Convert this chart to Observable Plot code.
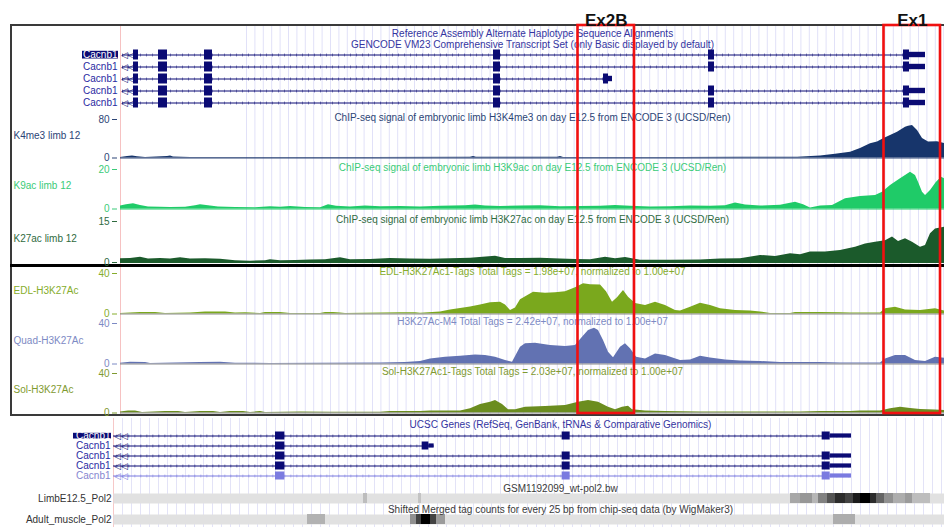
<!DOCTYPE html>
<html><head><meta charset="utf-8">
<script src="https://cdn.jsdelivr.net/npm/d3@7"></script>
<script src="https://cdn.jsdelivr.net/npm/@observablehq/plot@0.6"></script>
<style>
html,body{margin:0;padding:0;background:#fff;}
#c{position:relative;width:944px;height:527px;overflow:hidden;background:#fff;font-family:"Liberation Sans",Arial,sans-serif;}
#c svg{position:absolute;overflow:visible;max-width:none !important;}
.ln{position:absolute;box-sizing:border-box;}
</style></head><body><div id="c"></div>
<script>
// ================= DATA =================
// genomic bins shown in each panel
const topDomain = [0, 824];
const lowDomain = [251.5, 922];

// transcript models (genomic bins)
const transcripts = {
  full:  {start: 2, end: 805, exons: [[13,18],[38,47],[84,92],[373,380],[588,594],[783,789]], utr: [[789,805]]},
  short: {start: 2, end: 492, exons: [[13,18],[38,47],[84,92],[373,380],[483,488]], utr: [[488,492]]}
};
const geneName = "Cacnb1";
const topRowKinds = ["full","full","short","full","full"];
const lowRowKinds = ["full","short","full","full","full"];
const lowRowFaded = [false,false,false,false,true];

const topTitles = ["Reference Assembly Alternate Haplotype Sequence Alignments",
                   "GENCODE VM23 Comprehensive Transcript Set (only Basic displayed by default)"];
const lowTitle = "UCSC Genes (RefSeq, GenBank, tRNAs & Comparative Genomics)";

// signal tracks [bin, value]
const k4me3 = [[0,1],[7,3],[12,4],[17,2.5],[25,1],[47,3],[50,4],[53,2],[70,1],[150,0.8],[250,1],[350,1.5],[353,3],[356,1.5],[437,1.5],[440,3],[443,1],[500,1],[560,1.2],[620,1.5],[677,1.5],[700,4],[715,8],[730,12],[740,20],[750,29.5],[757,33],[763,40],[770,47],[777,53.6],[785,64],[788,66],[792,67.5],[797,57],[802,40.5],[808,33],[817,34],[824,30]];
const k9ac = [[0,1.5],[6,2.2],[13,2.6],[20,1.8],[28,1],[40,0.9],[50,0.7],[65,0.9],[75,1.6],[80,2.1],[88,1.6],[98,1],[115,0.8],[135,0.6],[150,1.1],[160,0.9],[170,1.3],[185,0.8],[200,0.6],[208,2.1],[216,1.4],[230,1],[245,1.5],[260,1.2],[280,1.3],[300,1],[320,1.4],[345,1.6],[355,2],[365,1.5],[380,1.3],[400,1.5],[420,1.6],[440,1.2],[460,1.3],[480,1.4],[495,1.8],[510,1.4],[530,1],[550,1.2],[570,1.5],[590,1.4],[605,1.7],[615,3.1],[625,2],[640,1.5],[660,1.9],[675,3.4],[683,2.2],[690,0.5],[700,1.5],[712,1.8],[725,5.2],[740,6.3],[755,6.8],[762,8.5],[770,11.9],[780,15.3],[785,17],[790,18.6],[795,17],[798,13.6],[802,8.5],[805,6.8],[810,9.4],[816,13.6],[821,16.1],[824,15.3]];
const k27ac = [[0,1.4],[10,1.5],[20,1.95],[28,1.3],[40,1.5],[50,1.3],[60,1.7],[70,1.3],[85,1.4],[100,1.2],[115,0.6],[130,0.5],[145,0.6],[150,1],[160,0.6],[175,0.7],[190,0.9],[205,1],[220,1.7],[230,1],[250,1.1],[270,1.5],[290,1.3],[310,1.2],[330,1.4],[350,1.6],[375,2.3],[385,1.5],[400,1.5],[420,1.6],[440,1.3],[455,1.1],[470,1],[485,1.95],[495,1.4],[505,1.8],[520,0.8],[550,0.8],[580,0.9],[600,1.3],[620,1.4],[640,2.6],[655,2.2],[670,3.2],[680,2.8],[690,3.8],[705,3.8],[720,4.4],[735,5.6],[745,6.8],[755,7.4],[765,8],[772,9.3],[778,7.7],[785,8.7],[792,7.4],[800,5.6],[805,6.2],[810,10.5],[815,12.3],[824,12.9]];
const edl = [[0,0.5],[20,1.5],[35,1.5],[45,0.5],[70,1],[85,2],[105,2],[115,1],[125,1.3],[140,0.4],[145,1.5],[160,1.5],[170,0.4],[200,0.5],[205,1.5],[213,1.5],[220,1],[225,0.5],[280,1.3],[295,1.3],[300,0.7],[320,2],[330,4],[340,5.5],[350,7],[360,9],[370,11],[380,11.7],[385,9],[390,3.5],[395,6],[400,14],[413,21.5],[425,20.5],[435,21],[445,22],[455,26],[463,29.8],[470,29],[480,28.6],[486,22],[492,11.7],[497,16],[503,23.2],[508,16.6],[515,10.4],[525,8.4],[535,11.7],[545,8.4],[555,3.5],[560,3],[570,6.7],[580,10.7],[590,8.4],[600,5.1],[615,3.5],[630,3],[640,2],[650,0.5],[670,0.5],[675,1.5],[700,1.5],[720,1.2],[730,1],[760,1],[765,5.1],[775,6.7],[785,4],[800,3.5],[815,5.1],[824,3]];
const quad = [[0,0.8],[10,1.8],[25,1.5],[30,0.5],[80,1.5],[100,1.8],[115,0.8],[150,0.5],[200,0.8],[260,1],[285,1.5],[300,2.5],[310,5],[325,6.7],[340,7.7],[355,9],[365,8.4],[375,6.7],[385,3.5],[392,1.8],[400,16.6],[405,20],[415,20.6],[430,18.3],[445,17.3],[455,18.3],[462,26.5],[468,33],[474,35.4],[478,33],[483,23.2],[488,11.7],[493,6.1],[500,16.6],[505,20],[510,15],[516,6.7],[525,5],[535,10],[545,8.4],[560,3.5],[570,4],[580,7.7],[590,6],[605,4],[620,3],[640,2.5],[660,1.5],[700,1.5],[720,1],[760,1],[765,5],[775,8.4],[785,8.4],[795,3.5],[805,2.5],[815,6.7],[824,5.8]];
const sol = [[0,1],[8,2],[15,2],[22,0.5],[45,1.5],[58,1.5],[65,0.5],[80,1.5],[93,1.5],[100,0.5],[110,1.5],[123,1.5],[130,0.5],[140,1.5],[145,0.5],[180,1],[210,0.8],[260,0.8],[270,1.5],[300,1.5],[310,2],[340,2],[350,4.2],[360,8.6],[370,10.9],[375,12.6],[382,8.6],[388,3.2],[395,3.2],[405,5.9],[425,6.6],[445,7.6],[458,10.9],[468,12.6],[478,10.9],[488,5.9],[495,3.2],[502,5.9],[508,6.9],[512,3.2],[525,2],[545,1.5],[580,1],[680,1],[700,1.5],[730,1.5],[740,2],[760,2],[770,4.2],[780,5.9],[790,4.5],[800,3.5],[815,3],[824,2.5]];

const trackSeries = [k4me3, k9ac, k27ac, edl, quad, sol];
const trackLabels = ["K4me3 limb 12","K9ac limb 12","K27ac limb 12","EDL-H3K27Ac","Quad-H3K27Ac","Sol-H3K27Ac"];
const trackTitles = [
  "ChIP-seq signal of embryonic limb H3K4me3 on day E12.5 from ENCODE 3 (UCSD/Ren)",
  "ChIP-seq signal of embryonic limb H3K9ac on day E12.5 from ENCODE 3 (UCSD/Ren)",
  "ChIP-seq signal of embryonic limb H3K27ac on day E12.5 from ENCODE 3 (UCSD/Ren)",
  "EDL-H3K27Ac1-Tags Total Tags = 1.98e+07, normalized to 1.00e+07",
  "H3K27Ac-M4 Total Tags = 2.42e+07, normalized to 1.00e+07",
  "Sol-H3K27Ac1-Tags Total Tags = 2.03e+07, normalized to 1.00e+07"];
const trackMax = [80, 20, 15, 40, 40, 40];

// highlighted exon regions
const boxNames = ["Ex2B", "Ex1"];
const boxStart = [457.5, 763.5];
const boxEnd = [514, 820];

// density (heat) tracks in the lower panel: [start, end, intensity 0..1]
const heatNames = ["LimbE12.5_Pol2", "Adult_muscle_Pol2"];
const heatTitles = ["GSM1192099_wt-pol2.bw", "Shifted Merged tag counts for every 25 bp from chip-seq data (by WigMaker3)"];
const limbPol2 = [[439,442,0.15],[480.25,482.5,0.12],[759.25,766.75,0.25],[766.75,775.75,0.32],[775.75,780.25,0.18],[780.25,787,0.42],[787,793,0.62],[793,800.5,0.8],[800.5,806.5,0.7],[806.5,811.75,0.88],[811.75,819.25,1.0],[819.25,823.75,0.8],[823.75,829.75,0.55],[829.75,836.5,0.35],[836.5,845.5,0.22],[845.5,850.75,0.3],[850.75,864.25,0.15]];
const adultPol2 = [[397,410.5,0.2],[474.25,478.75,0.35],[478.75,482.5,0.7],[482.5,489.25,1.0],[489.25,493.75,0.7],[493.75,500.5,0.3],[791.5,808,0.22]];
const heatSeries = [limbPol2, adultPol2];

// ================= STYLE / LAYOUT =================
const FONT = "'Liberation Sans', Arial, Helvetica, sans-serif";
const geneDark = "#0b0b74", geneFaded = "#7b7be0";
const trackFill = ["#17356b","#1fcb68","#1b5a2b","#7aa81d","#6272b2","#6b8d1f"];
const trackInk  = ["#2c4576","#3acb78","#2f6b3f","#86ad2c","#7d8ac4","#7f9a30"];
const trackBase = ["#2c4576","#1fcb68","#1b5a2b","#8c8c8c","#8c8c8c","#8c8c8c"];
const trackTopPx = [119, 169, 221, 273, 323, 373];
const trackBasePx = [157.5, 208.5, 262, 313.5, 363.5, 412.5];

const C = document.getElementById("c");
function put(el, left, top) { el.style.left = left + "px"; el.style.top = top + "px"; C.append(el); return el; }
function line(left, top, w, h, css) { const d = document.createElement("div"); d.className = "ln"; d.style.cssText = `left:${left}px;top:${top}px;width:${w}px;height:${h}px;${css}`; C.append(d); }
const baseStyle = (color) => ({fontFamily: FONT, fontSize: "10px", background: "transparent", overflow: "visible", maxWidth: "none", color: color || "#000"});

function geneTables(kinds, faded) {
  const introns = [], cds = [], utr = [], rows = [];
  kinds.forEach((k, i) => {
    const t = transcripts[k], col = faded[i] ? geneFaded : geneDark;
    rows.push({row: i, name: geneName, selected: i === 0, color: col, label: faded[i] ? "#8686cf" : "#2a2aa2"});
    introns.push({row: i, x1: t.start, x2: t.end, color: col});
    t.exons.forEach(([a, b]) => cds.push({row: i, x1: a, x2: b, color: col}));
    t.utr.forEach(([a, b]) => utr.push({row: i, x1: a, x2: b, color: col}));
  });
  return {introns, cds, utr, rows};
}

function genePlot(tab, domain, width, marginLeft, marginRight, marginTop, height, titleText, titleDy, utrInset) {
  return Plot.plot({
    width, height, marginLeft, marginRight, marginTop, marginBottom: 0,
    x: {domain, axis: null},
    y: {domain: d3.range(5), axis: null, padding: 0.08},
    style: baseStyle("#2d2d9a"),
    marks: [
      Plot.text([titleText], {frameAnchor: "top", lineAnchor: "middle", dy: titleDy, lineHeight: 1.1, fill: "#3434a0"}),
      Plot.ruleY(tab.introns, {y: "row", x1: "x1", x2: "x2", stroke: "color", strokeWidth: 1, clip: true}),
      Plot.ruleY(tab.introns, {y: "row", x1: "x1", x2: "x2", stroke: "color", strokeWidth: 3, strokeDasharray: "1 5", strokeOpacity: 0.45, clip: true}),
      Plot.barX(tab.cds, {y: "row", x1: "x1", x2: "x2", fill: "color", insetTop: 0.5, insetBottom: 0.5, clip: true}),
      Plot.barX(tab.utr, {y: "row", x1: "x1", x2: "x2", fill: "color", insetTop: utrInset, insetBottom: utrInset, clip: true}),
      Plot.text(tab.rows, {y: "row", frameAnchor: "left", dx: 0, textAnchor: "start", text: () => "◁◁", fill: "color", fontSize: 9})
    ]
  });
}

function labelPlot(tab, width, marginTop, height) {
  return Plot.plot({
    width, height, marginLeft: 0, marginRight: 2, marginTop, marginBottom: 0,
    x: {domain: ["label"], axis: null, padding: 0},
    y: {domain: d3.range(5), axis: null, padding: 0.08},
    style: baseStyle(),
    marks: [
      Plot.cell(tab.rows.filter(d => d.selected), {x: () => "label", y: "row", fill: geneDark, insetTop: 1.8, insetBottom: 1.5}),
      Plot.text(tab.rows, {y: "row", frameAnchor: "right", dx: -1, textAnchor: "end", text: "name", fill: d => d.selected ? "#ffffff" : d.label})
    ]
  });
}

// ----- upper panel: guide lines -----
put(Plot.plot({
  width: 944, height: 389, marginLeft: 120, marginRight: 0, marginTop: 0, marginBottom: 0,
  x: {domain: topDomain, axis: null}, style: baseStyle(),
  marks: [
    Plot.ruleX(d3.range(126, 824, 8.4), {stroke: "#e1e1f8", strokeWidth: 1}),
    Plot.ruleX([topDomain[0]], {stroke: "#f6c2c2", strokeWidth: 1})
  ]
}), 0, 26);

// ----- upper panel: frame -----
line(10, 24, 960, 392, "border:2px solid #3a3a3a;border-right:none;");
line(10, 264, 940, 3, "background:#000;");

// ----- upper panel: genes -----
const topGenes = geneTables(topRowKinds, [false,false,false,false,false]);
put(genePlot(topGenes, topDomain, 944, 120, 0, 22, 84, topTitles.join("\n"), -9.5, 2.8), 0, 26);
put(labelPlot(topGenes, 38, 22, 84), 82, 26);

// ----- upper panel: signal tracks -----
trackSeries.forEach((series, i) => {
  const top = trackTopPx[i], base = trackBasePx[i];
  put(Plot.plot({
    width: 944, height: base - top + 10, marginLeft: 120, marginRight: 0, marginTop: 8, marginBottom: 2,
    x: {domain: topDomain, axis: null},
    y: {domain: [0, trackMax[i]]},
    style: baseStyle(trackInk[i]),
    marks: [
      Plot.areaY(series, {x: d => d[0], y: d => d[1], fill: trackFill[i], curve: "linear"}),
      Plot.ruleY([0], {stroke: trackBase[i], strokeWidth: 1.2}),
      Plot.axisY({ticks: [0, trackMax[i]], tickSize: 5, tickPadding: 3, dx: -3, label: null, color: trackInk[i]}),
      Plot.text([trackTitles[i]], {frameAnchor: "top", lineAnchor: "middle", dy: -2, fill: trackInk[i]}),
      Plot.text([trackLabels[i]], {frameAnchor: "left", textAnchor: "start", dx: -107, dy: -3, fill: trackInk[i]})
    ]
  }), 0, top - 8);
});

// ----- red exon boxes -----
const boxes = boxNames.map((n, i) => ({name: n, x1: boxStart[i], x2: boxEnd[i]}));
put(Plot.plot({
  width: 944, height: 416, marginLeft: 120, marginRight: 0, marginTop: 25, marginBottom: 3,
  x: {domain: topDomain, axis: null}, style: baseStyle(),
  marks: [
    Plot.rect(boxes, {x1: "x1", x2: "x2", fill: "none", stroke: "#f01010", strokeWidth: 2.6}),
    Plot.text(boxes, {x: d => (d.x1 + d.x2) / 2, text: "name", frameAnchor: "top", dy: -12, fontSize: 17, fontWeight: "bold", fill: "#111"})
  ]
}), 0, 0);

// ----- lower panel -----
put(Plot.plot({
  width: 1010, height: 109, marginLeft: 113, marginRight: 3, marginTop: 0, marginBottom: 0,
  x: {domain: lowDomain, axis: null}, style: baseStyle(),
  marks: [
    Plot.ruleX(d3.range(258.25, 922, 6.75), {stroke: "#e3e3f7", strokeWidth: 1}),
    Plot.ruleX([lowDomain[0]], {stroke: "#f6c8c8", strokeWidth: 1})
  ]
}), 0, 418);

const lowGenes = geneTables(lowRowKinds, lowRowFaded);
put(genePlot(lowGenes, lowDomain, 1010, 113, 3, 10, 65, lowTitle, -4, 2.4), 0, 418);
put(labelPlot(lowGenes, 40, 10, 65), 73, 418);

heatSeries.forEach((bins, i) => {
  put(Plot.plot({
    width: 1010, height: 22, marginLeft: 113, marginRight: 3, marginTop: 11, marginBottom: 1,
    x: {domain: lowDomain, axis: null},
    color: {type: "linear", domain: [0, 1], range: ["#dedede", "#000000"]},
    style: baseStyle("#333"),
    marks: [
      Plot.frame({fill: "#e1e1e1", stroke: "none"}),
      Plot.rect(bins, {x1: d => d[0], x2: d => d[1], fill: d => d[2]}),
      Plot.text([heatTitles[i]], {frameAnchor: "top", lineAnchor: "middle", dy: -5, fill: "#3a3a3a"}),
      Plot.text([heatNames[i]], {frameAnchor: "left", textAnchor: "end", dx: -2, fill: "#333"})
    ]
  }), 0, i === 0 ? 482 : 503);
});
</script></body></html>
